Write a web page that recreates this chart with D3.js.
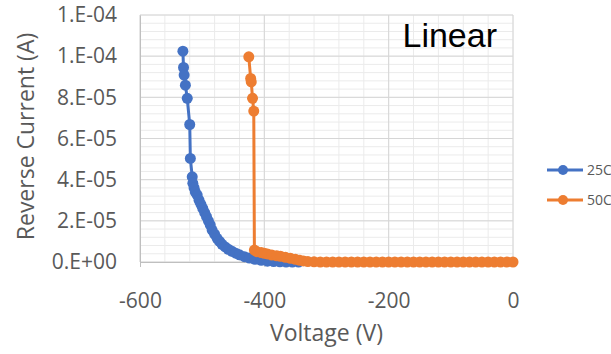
<!DOCTYPE html>
<html>
<head>
<meta charset="utf-8">
<script src="https://cdn.jsdelivr.net/npm/d3@7"></script>
<style>
  body { margin: 0; background: #fff; }
  svg { font-family: "Open Sans", "Noto Sans", sans-serif; }
</style>
</head>
<body>
<svg id="chart" width="611" height="354"></svg>
<script>
// values, current in microamps
var v25 = [-531, -530, -529, -527, -524, -520, -519, -516, -515, -513, -511, -508, -505, -502, -499,
    -496, -493, -490, -487, -484, -480, -476, -472, -468, -463, -458, -452, -446, -440, -432,
    -424, -415, -405, -395, -385, -375, -365, -355, -345];
var i25 = [102.4, 94.5, 90.8, 85.9, 79.5, 66.8, 50.3, 41.4, 38.2, 36, 34, 32.5, 30, 28, 26,
    24, 22, 20, 18, 15.5, 13.5, 11.5, 10, 8.6, 7.3, 6.2, 5.2, 4.3, 3.5, 2.6,
    1.9, 1.3, 0.8, 0.4, 0.2, 0.1, 0, 0, 0];

var v50 = [-425, -422, -421, -419, -417, -416, -412, -405, -400, -395, -388, -380, -374, -366, -358,
    -350, -343, -337, -330, -320, -310, -300, -290, -280, -270, -260, -250, -240, -230, -220,
    -210, -200, -190, -180, -170, -160, -150, -140, -130, -120, -110, -100, -90, -80, -70,
    -60, -50, -40, -30, -20, -10, 0];
var i50 = [99.7, 89.2, 87.5, 79.5, 73.3, 5.8, 5.0, 4.6, 4.2, 3.9, 3.4, 3.0, 2.8, 2.3, 1.8,
    1.3, 0.8, 0.5, 0.2, 0.1, 0, 0, 0, 0, 0, 0, 0, 0, 0, 0,
    0, 0, 0, 0, 0, 0, 0, 0, 0, 0, 0, 0, 0, 0, 0,
    0, 0, 0, 0, 0, 0, 0];

var seriesNames = ['25C', '50C'];
var seriesColors = ['#4472C4', '#ED7D31'];
var xTicks = [-600, -400, -200, 0];
var yTicks = [0, 2e-5, 4e-5, 6e-5, 8e-5, 1e-4, 1.2e-4];

var series = [
    v25.map((v, k) => ({ x: v, y: i25[k] * 1e-6 })),
    v50.map((v, k) => ({ x: v, y: i50[k] * 1e-6 }))
];

var svg = d3.select('#chart');
var margin = { top: 15, left: 140, right: 98, bottom: 92 },
    width = 611 - margin.left - margin.right,
    height = 354 - margin.top - margin.bottom;

var xScale = d3.scaleLinear().domain([-600, 0]).range([0, width]);
var yScale = d3.scaleLinear().domain([0, 1.2e-4]).range([height, 0]);

// excel style 0.E+00
function sci(v) {
    if (v === 0) return '0.E+00';
    var e = Math.floor(Math.log10(v));
    var m = Math.round(v / Math.pow(10, e));
    if (m >= 10) { m = 1; e++; }
    return m + '.E' + (e < 0 ? '-' : '+') + String(Math.abs(e)).padStart(2, '0');
}

var g = svg.append('g').attr('transform', `translate(${margin.left},${margin.top})`);

// minor grid
var minorX = d3.range(-600, 1, 40), minorY = d3.range(0, 1.2e-4 + 1e-9, 4e-6);
g.append('g').selectAll('line').data(minorX).enter().append('line')
    .attr('x1', d => xScale(d)).attr('x2', d => xScale(d))
    .attr('y1', 0).attr('y2', height)
    .attr('stroke', '#ebebeb').attr('stroke-width', 1);
g.append('g').selectAll('line').data(minorY).enter().append('line')
    .attr('y1', d => yScale(d)).attr('y2', d => yScale(d))
    .attr('x1', 0).attr('x2', width)
    .attr('stroke', '#ebebeb').attr('stroke-width', 1);

// major grid
g.append('g').selectAll('line').data(xTicks).enter().append('line')
    .attr('x1', d => xScale(d)).attr('x2', d => xScale(d))
    .attr('y1', 0).attr('y2', height)
    .attr('stroke', '#d6d6d6').attr('stroke-width', 1);
g.append('g').selectAll('line').data(yTicks).enter().append('line')
    .attr('y1', d => yScale(d)).attr('y2', d => yScale(d))
    .attr('x1', 0).attr('x2', width)
    .attr('stroke', '#d6d6d6').attr('stroke-width', 1);

// axes
var xAxis = g.append('g')
    .attr('transform', `translate(0,${height})`)
    .call(d3.axisBottom(xScale).tickValues(xTicks).tickSize(5).tickPadding(26).tickFormat(d3.format('d')));
var yAxis = g.append('g')
    .call(d3.axisLeft(yScale).tickValues(yTicks).tickSize(0).tickPadding(23).tickFormat(sci));
[xAxis, yAxis].forEach(a => {
    a.select('.domain').attr('stroke', '#bfbfbf');
    a.selectAll('.tick line').attr('stroke', '#bfbfbf');
    a.selectAll('text').attr('fill', '#595959').style('font-size', '21px')
        .style('font-family', '"Open Sans", sans-serif');
});
xAxis.selectAll('text').text(d => d === 0 ? '0' : d3.format('d')(d).replace('−', '-'));

// axis titles
g.append('text')
    .attr('x', width / 2).attr('y', height + 79)
    .attr('text-anchor', 'middle').attr('fill', '#595959')
    .style('font-size', '23px').text('Voltage (V)');
g.append('text')
    .attr('transform', 'rotate(-90)')
    .attr('x', -height / 2 + 2).attr('y', -106)
    .attr('text-anchor', 'middle').attr('fill', '#595959')
    .style('font-size', '23px').text('Reverse Current (A)');

// data
var line = d3.line().x(d => xScale(d.x)).y(d => yScale(d.y));
series.forEach((s, i) => {
    g.append('path').datum(s)
        .attr('fill', 'none').attr('stroke', seriesColors[i])
        .attr('stroke-width', 3).attr('d', line);
    g.append('g').selectAll('circle').data(s).enter().append('circle')
        .attr('cx', d => xScale(d.x)).attr('cy', d => yScale(d.y))
        .attr('r', 5.5).attr('fill', seriesColors[i]);
});

// label
g.append('text')
    .attr('x', 497 - margin.left).attr('y', 47 - margin.top)
    .attr('text-anchor', 'end').attr('fill', '#000')
    .style('font-family', '"Liberation Sans", Arial, sans-serif')
    .style('font-size', '34px').text('Linear');

// legend
var legend = svg.append('g').attr('transform', 'translate(547,170)');
var le = legend.selectAll('g').data(seriesNames).enter().append('g')
    .attr('transform', (d, i) => `translate(0,${i * 30})`);
le.append('line').attr('x1', 0).attr('x2', 36).attr('y1', 0).attr('y2', 0)
    .attr('stroke', (d, i) => seriesColors[i]).attr('stroke-width', 3);
le.append('circle').attr('cx', 16).attr('cy', 0).attr('r', 5)
    .attr('fill', (d, i) => seriesColors[i]);
le.append('text').attr('x', 40).attr('y', 0).attr('dy', '0.35em')
    .attr('fill', '#595959').style('font-size', '14px').text(d => d);
</script>
</body>
</html>
